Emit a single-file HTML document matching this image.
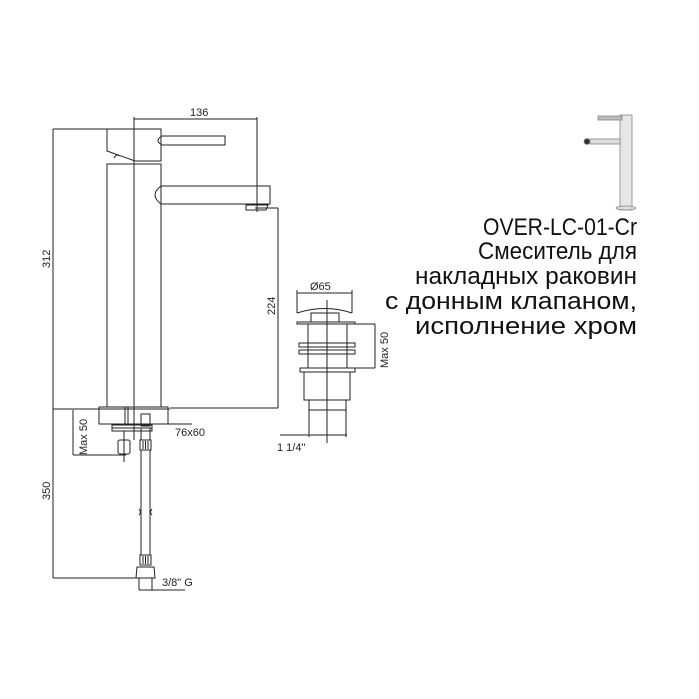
<!DOCTYPE html>
<html><head><meta charset="utf-8"><style>html,body{margin:0;padding:0;background:#fff}svg{display:block}</style></head>
<body>
<svg width="699" height="699" viewBox="0 0 699 699" xmlns="http://www.w3.org/2000/svg" font-family="Liberation Sans, sans-serif">
<g fill="none" stroke="#222" stroke-width="1">
<!-- 312 dim -->
<line x1="53" y1="129" x2="53" y2="578"/>
<line x1="53" y1="129" x2="107" y2="129"/>
<line x1="53" y1="409" x2="170" y2="409"/>
<line x1="53" y1="578" x2="138" y2="578"/>
<!-- handle block -->
<polyline points="107,129 161,129 161,161 135,161 107,151 107,129"/>
<path d="M114,158 Q117,153 119,156"/>
<line x1="111" y1="164" x2="161" y2="164"/>
<path d="M162,136 L225,136 L225,145 L162,145 Q154,140.5 162,136Z"/>
<!-- body -->
<rect x="107" y="164" width="54" height="243"/>
<!-- spout -->
<path d="M161,186 L270,186 L270,204 L161,204 Q149,195 161,186Z"/>
<path d="M246,205 L268,205 L266,210 L246,210 Z"/>
<!-- 136 dim -->
<line x1="134" y1="119" x2="257" y2="119"/>
<line x1="257" y1="117" x2="257" y2="212"/>
<line x1="134" y1="117" x2="134" y2="440"/>
<!-- 224 dim -->
<line x1="278" y1="208" x2="278" y2="408"/>
<line x1="255" y1="208" x2="278" y2="208"/>
<line x1="170" y1="408" x2="278" y2="408"/>
<!-- base -->
<rect x="99" y="407" width="69" height="17"/>
<line x1="125" y1="407" x2="125" y2="424"/>
<line x1="128" y1="407" x2="128" y2="424"/>
<line x1="168" y1="424" x2="192" y2="424"/>
<!-- max 50 dim -->
<line x1="73" y1="410" x2="73" y2="455"/>
<line x1="73" y1="455" x2="126" y2="455"/>
<rect x="112" y="425" width="40" height="6"/>
<line x1="112" y1="428" x2="152" y2="428"/>
<line x1="124" y1="431" x2="124" y2="462"/>
<rect x="118" y="440" width="12" height="14" rx="2"/>
<!-- hose -->
<rect x="141" y="414" width="9" height="12"/>
<rect x="141" y="428" width="9" height="12"/>
<rect x="140" y="440" width="11" height="10"/>
<line x1="143" y1="441" x2="143" y2="449"/><line x1="145.5" y1="441" x2="145.5" y2="449"/><line x1="148" y1="441" x2="148" y2="449"/>
<line x1="141" y1="450" x2="141" y2="555"/>
<line x1="150" y1="450" x2="150" y2="555"/>
<path d="M139,515 q3,-3 0,-6 M152,515 q-3,-3 0,-6" />
<rect x="140" y="555" width="11" height="10"/>
<line x1="143" y1="556" x2="143" y2="564"/><line x1="145.5" y1="556" x2="145.5" y2="564"/><line x1="148" y1="556" x2="148" y2="564"/>
<path d="M137,567 L154,567 L155,578 L136,578 Z"/>
<line x1="139" y1="578" x2="139" y2="590"/>
<line x1="152" y1="578" x2="152" y2="590"/>
<line x1="139" y1="590" x2="185" y2="590"/>
<!-- drain -->
<line x1="297" y1="293" x2="352" y2="293"/>
<line x1="297" y1="290" x2="297" y2="313"/>
<line x1="352" y1="290" x2="352" y2="313"/>
<path d="M297,313 Q325,304 352,313"/>
<line x1="327" y1="300" x2="327" y2="443"/>
<rect x="311" y="313" width="28" height="9"/>
<rect x="297" y="322" width="58" height="2"/>
<rect x="308" y="324" width="39" height="44"/>
<rect x="299" y="343" width="56" height="4"/>
<rect x="299" y="350" width="56" height="4"/>
<rect x="300" y="368" width="55" height="4"/>
<rect x="304" y="372" width="46" height="28"/>
<rect x="309" y="400" width="37" height="10"/>
<line x1="355" y1="324" x2="375" y2="324"/>
<line x1="355" y1="368" x2="375" y2="368"/>
<line x1="375" y1="324" x2="375" y2="368"/>
<line x1="309" y1="410" x2="309" y2="437"/>
<line x1="346" y1="410" x2="346" y2="437"/>
<line x1="280" y1="435" x2="347" y2="435"/>
</g>
<!-- photo -->
<g fill="#ccc" stroke="#888" stroke-width="0.8">
<rect x="620" y="115" width="12" height="95" fill="#e6e6e6"/>
<rect x="598" y="116" width="24" height="4" fill="#bbb"/>
<rect x="590" y="139" width="30" height="5" fill="#ddd"/>
<ellipse cx="587" cy="141.5" rx="3" ry="3" fill="#333"/>
<ellipse cx="626" cy="208" rx="10" ry="2" fill="#ddd"/>
</g>
<g fill="#222" font-size="11">
<text x="190" y="116">136</text>
<text transform="translate(50,268) rotate(-90)">312</text>
<text transform="translate(275,315) rotate(-90)">224</text>
<text transform="translate(50,500) rotate(-90)">350</text>
<text transform="translate(87,455) rotate(-90)">Max 50</text>
<text transform="translate(388,368) rotate(-90)">Max 50</text>
<text x="175" y="436">76x60</text>
<text x="162" y="586">3/8" G</text>
<text x="310" y="290">Ø65</text>
<text x="277" y="451">1 1/4"</text>
</g>
<g fill="#111" font-size="24">
<text x="483" y="235" textLength="154" lengthAdjust="spacingAndGlyphs">OVER-LC-01-Cr</text>
<text x="478" y="259" textLength="159" lengthAdjust="spacingAndGlyphs">Смеситель для</text>
<text x="415" y="284" textLength="222" lengthAdjust="spacingAndGlyphs">накладных раковин</text>
<text x="385" y="309" textLength="252" lengthAdjust="spacingAndGlyphs">с донным клапаном,</text>
<text x="415" y="334" textLength="222" lengthAdjust="spacingAndGlyphs">исполнение хром</text>
</g>
</svg>
</body></html>
